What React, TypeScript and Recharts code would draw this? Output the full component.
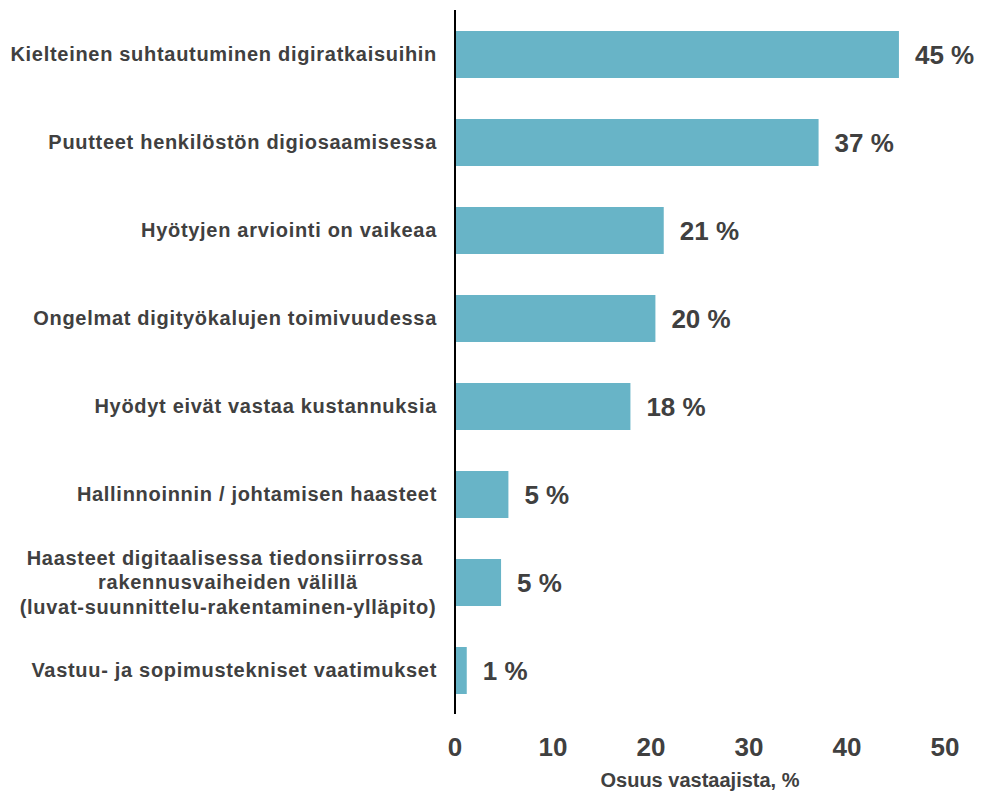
import { BarChart, Bar, XAxis, YAxis, LabelList } from 'recharts'

const categories = [
  'Kielteinen suhtautuminen digiratkaisuihin',
  'Puutteet henkilöstön digiosaamisessa',
  'Hyötyjen arviointi on vaikeaa',
  'Ongelmat digityökalujen toimivuudessa',
  'Hyödyt eivät vastaa kustannuksia',
  'Hallinnoinnin / johtamisen haasteet',
  'Haasteet digitaalisessa tiedonsiirrossa \nrakennusvaiheiden välillä\n(luvat-suunnittelu-rakentaminen-ylläpito)',
  'Vastuu- ja sopimustekniset vaatimukset',
]
const shares = [45.3, 37.1, 21.3, 20.45, 17.9, 5.45, 4.7, 1.2]
const xTicks = [0, 10, 20, 30, 40, 50]

const data = categories.map((name, i) => ({ name, value: shares[i] }))

const TEXT = '#404040'
const FONT = '"Liberation Sans", Arial, sans-serif'

const CategoryTick = (props: any) => {
  const { x, y, payload } = props
  const lines: string[] = String(payload.value).split('\n')
  const common = { fill: TEXT, fontSize: 20, fontWeight: 'bold', fontFamily: FONT, letterSpacing: 0.7 }
  if (lines.length === 1) {
    return (
      <text x={x} y={y} dy="0.35em" textAnchor="end" {...common}>
        {lines[0]}
      </text>
    )
  }
  const lh = 24.5
  const cx = x - 209
  return (
    <text x={cx} y={y} textAnchor="middle" {...common}>
      {lines.map((l, i) => (
        <tspan key={i} x={cx} y={y + (i - (lines.length - 1) / 2) * lh} dy="0.35em">
          {l}
        </tspan>
      ))}
    </text>
  )
}

export default function App() {
  return (
    <div style={{ position: 'fixed', left: 0, top: 0, background: '#fff', width: 981, height: 793 }}>
      <BarChart
        width={981}
        height={793}
        data={data}
        layout="vertical"
        barSize={47}
        margin={{ top: 10, right: 36, bottom: 0, left: 0 }}
      >
        <XAxis
          type="number"
          domain={[0, 50]}
          ticks={xTicks}
          axisLine={false}
          tickLine={false}
          tickMargin={18}
          height={79}
          tick={{ fontSize: 26, fontWeight: 'bold', fill: TEXT, fontFamily: FONT }}
          label={{
            value: 'Osuus vastaajista, %',
            position: 'insideBottom',
            offset: 6,
            fill: TEXT,
            fontSize: 20,
            fontWeight: 'bold',
            fontFamily: FONT,
          }}
        />
        <YAxis
          type="category"
          dataKey="name"
          width={455}
          axisLine={{ stroke: '#000', strokeWidth: 2 }}
          tickLine={false}
          tickMargin={12}
          interval={0}
          tick={<CategoryTick />}
        />
        <Bar dataKey="value" fill="#68B4C7" isAnimationActive={false}>
          <LabelList
            dataKey="value"
            position="right"
            offset={16}
            formatter={(v: any) => `${Math.round(Number(v))} %`}
            fill={TEXT}
            fontSize={26}
            fontWeight="bold"
            fontFamily={FONT}
          />
        </Bar>
      </BarChart>
    </div>
  )
}
